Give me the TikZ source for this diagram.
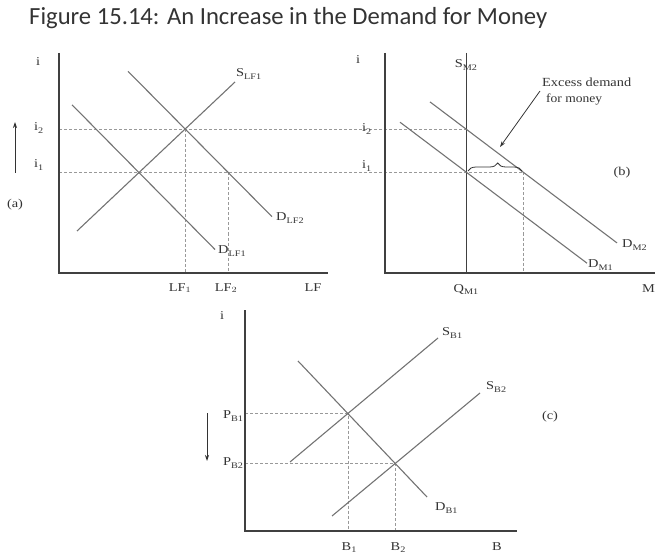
\documentclass[tikz,border=0pt]{standalone}
\usepackage{fontspec}
\setmainfont{Liberation Serif}
\newfontfamily\labfont{Liberation Serif}
\newfontfamily\titlefont{Carlito}
\usetikzlibrary{decorations.pathreplacing,arrows.meta}
\newcommand\lsub[1]{\raisebox{-0.45ex}{\fontsize{8.5}{8.5}\selectfont #1}}
\newcommand\lbl[1]{\scalebox{1.2}[1]{#1}}
\tikzset{
  axis/.style={line width=1.4pt, draw=black!75},
  curve/.style={line width=1.1pt, draw=black!55},
  vsupply/.style={line width=1pt, draw=black!75},
  guide/.style={line width=0.6pt, draw=black!40, dash pattern=on 3pt off 2pt},
  lab/.style={font=\labfont\fontsize{12}{12}\selectfont, text=black!80, inner sep=0pt},
  shiftarrow/.style={line width=0.8pt, draw=black!80, -{Stealth[length=6pt,width=4pt]}},
}
\begin{document}
\begin{tikzpicture}[x=1pt,y=-1pt]
\useasboundingbox (0,0) rectangle (655,553);
% title
\node[anchor=base west, inner sep=0, text=black!80] (title) at (29,25)
  {\resizebox{518pt}{!}{\titlefont Figure 15.14: An Increase in the Demand for Money}};

% ---------------- panel (a) ----------------
\coordinate (aO) at (59,273); \coordinate (aTop) at (59,53); \coordinate (aR) at (328,273);
\coordinate (ai2) at (59,129); \coordinate (ai1) at (59,172.5);
\coordinate (aE2) at (185,129); \coordinate (aE3) at (228,172.5);
\coordinate (bE2) at (466,129); \coordinate (bX) at (523,172.5);
\coordinate (sa1) at (77,231); \coordinate (sa2) at (235,82);
\coordinate (dla1) at (72,104.8); \coordinate (dla2) at (215,249.5);
\coordinate (dlb1) at (128,71.3); \coordinate (dlb2) at (272,216.7);
\draw[guide] (ai2) -- (bE2);
\draw[guide] (ai1) -- (bX);
\draw[guide] (aE2) -- (aE2 |- aO);
\draw[guide] (aE3) -- (aE3 |- aO);
\draw[axis] (aTop) -- (aO) -- (aR);
\draw[curve] (sa1) -- (sa2);
\draw[curve] (dla1) -- (dla2);
\draw[curve] (dlb1) -- (dlb2);
\node[lab, anchor=base] (ai) at (38,66) {\lbl{i}};
\node[lab, anchor=base west] (ai2l) at (34,131) {\lbl{i\lsub{2}}};
\node[lab, anchor=base west] (ai1l) at (34,168) {\lbl{i\lsub{1}}};
\node[lab] (alab) at (15,205) {\lbl{(a)}};
\node[lab, anchor=west] (slf1) at (236,74) {\lbl{S\lsub{LF1}}};
\node[lab, anchor=west] (dlf2) at (276,218) {\lbl{D\lsub{LF2}}};
\node[lab, anchor=west] (dlf1) at (218,251) {\lbl{D\lsub{LF1}}};
\node[lab, anchor=base] (lf1) at (180,291) {\lbl{LF$_1$}};
\node[lab, anchor=base] (lf2) at (226,291) {\lbl{LF$_2$}};
\node[lab, anchor=base] (lf) at (313,291) {\lbl{LF}};
\coordinate (aArrB) at (15,173); \coordinate (aArrT) at (15,122);
\draw[shiftarrow] (aArrB) -- (aArrT);

% ---------------- panel (b) ----------------
\coordinate (bO) at (385,273); \coordinate (bTop) at (385,53); \coordinate (bR) at (655,273);
\coordinate (sm1) at (466,53); \coordinate (sm2) at (466,273);
\coordinate (dm2a) at (430,101.9); \coordinate (dm2b) at (617,242.9);
\coordinate (dm1a) at (400,122.2); \coordinate (dm1b) at (587,263.2);
\draw[guide] (bX) -- (bX |- bO);
\draw[axis] (bTop) -- (bO) -- (bR);
\draw[vsupply] (sm1) -- (sm2);
\draw[curve] (dm2a) -- (dm2b);
\draw[curve] (dm1a) -- (dm1b);
\coordinate (br1) at (468,171); \coordinate (br2) at (522,171);
\draw[line width=0.8pt, draw=black!80, decorate, decoration={brace, amplitude=8pt, aspect=0.55}] (br1) -- (br2);
\node[lab, anchor=base] (bi) at (358,64) {\lbl{i}};
\node[lab, anchor=base west] (bi2l) at (362,132) {\lbl{i\lsub{2}}};
\node[lab, anchor=base west] (bi1l) at (362,169) {\lbl{i\lsub{1}}};
\node[lab, anchor=base] (sm2l) at (466,68) {\lbl{S\lsub{M2}}};
\node[lab, anchor=west] (dm2l) at (622,245) {\lbl{D\lsub{M2}}};
\node[lab, anchor=west] (dm1l) at (588,265) {\lbl{D\lsub{M1}}};
\node[lab, anchor=base] (qm1) at (466,292) {\lbl{Q\lsub{M1}}};
\node[lab, anchor=base east] (ml) at (655,292) {\lbl{M}};
\node[lab] (blab) at (622,173) {\lbl{(b)}};
\node[lab, anchor=base west] (excess1) at (542,87) {\resizebox{89pt}{8.6pt}{Excess demand}};
\node[lab, anchor=base west] (excess2) at (546,103) {\resizebox{56pt}{8.6pt}{for money}};
\coordinate (exA) at (540,91); \coordinate (exB) at (500,147);
\draw[line width=0.8pt, draw=black!80, -{Stealth[length=6pt,width=4pt]}] (exA) -- (exB);

% ---------------- panel (c) ----------------
\coordinate (cO) at (245,531); \coordinate (cTop) at (245,310); \coordinate (cR) at (517,531);
\coordinate (sb1a) at (290,462); \coordinate (sb1b) at (438,338);
\coordinate (sb2a) at (332,516); \coordinate (sb2b) at (480,393);
\coordinate (db1a) at (298,361); \coordinate (db1b) at (427,497);
\coordinate (cE1) at (intersection of sb1a--sb1b and db1a--db1b);
\coordinate (cE2) at (intersection of sb2a--sb2b and db1a--db1b);
\draw[guide] (cO |- cE1) -- (cE1) -- (cE1 |- cO);
\draw[guide] (cO |- cE2) -- (cE2) -- (cE2 |- cO);
\draw[axis] (cTop) -- (cO) -- (cR);
\draw[curve] (sb1a) -- (sb1b);
\draw[curve] (sb2a) -- (sb2b);
\draw[curve] (db1a) -- (db1b);
\node[lab, anchor=base] (ci) at (222,319) {\lbl{i}};
\node[lab] (pb1) at (233,416) {\lbl{P\lsub{B1}}};
\node[lab] (pb2) at (233,463) {\lbl{P\lsub{B2}}};
\node[lab, anchor=west] (sb1l) at (442,333) {\lbl{S\lsub{B1}}};
\node[lab, anchor=west] (sb2l) at (486,387) {\lbl{S\lsub{B2}}};
\node[lab, anchor=west] (db1l) at (435,508) {\lbl{D\lsub{B1}}};
\node[lab, anchor=base] (b1l) at (349,550) {\lbl{B\lsub{1}}};
\node[lab, anchor=base] (b2l) at (398,550) {\lbl{B\lsub{2}}};
\node[lab, anchor=base] (bl) at (497,550) {\lbl{B}};
\node[lab] (clab) at (550,417) {\lbl{(c)}};
\coordinate (cArrT) at (207,413); \coordinate (cArrB) at (207,461);
\draw[shiftarrow] (cArrT) -- (cArrB);
\end{tikzpicture}
\end{document}
